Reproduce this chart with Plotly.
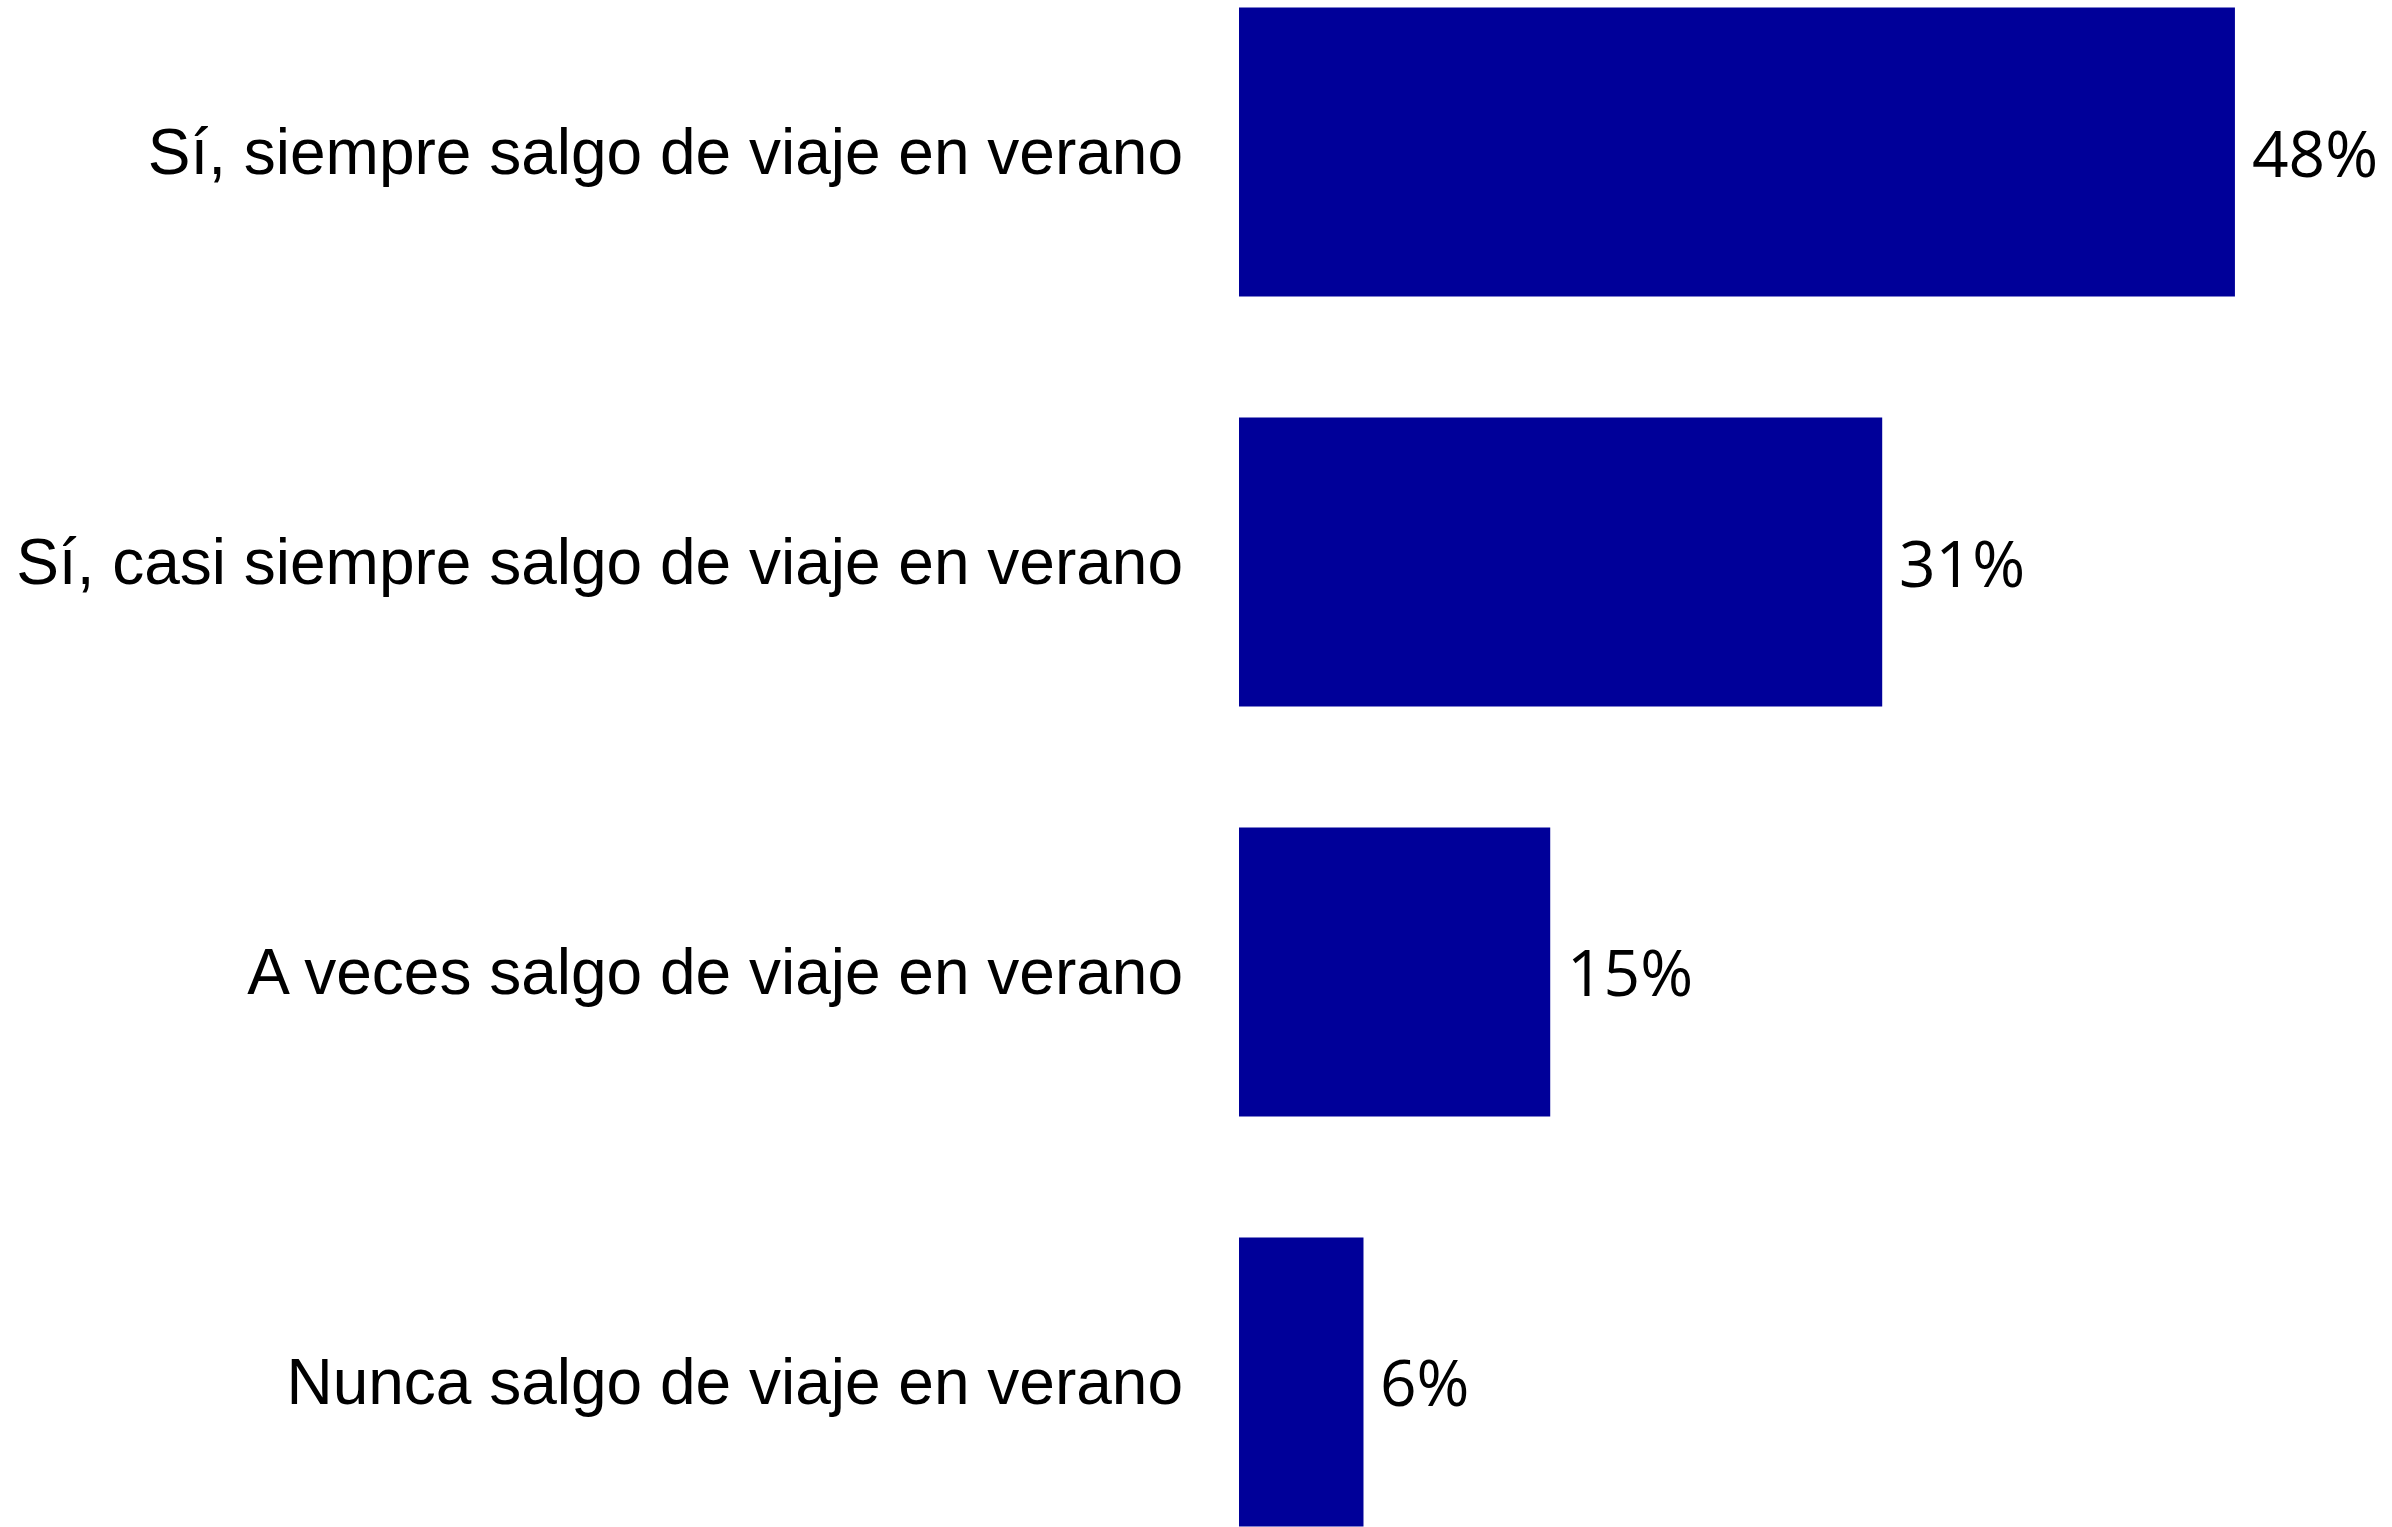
import plotly.graph_objects as go

# Survey answers (top to bottom) and their shares in percent
categories = [
    "Sí, siempre salgo de viaje en verano",
    "Sí, casi siempre salgo de viaje en verano",
    "A veces salgo de viaje en verano",
    "Nunca salgo de viaje en verano",
]
shares = [48, 31, 15, 6]
share_labels = [f"{v}%" for v in shares]

BAR_COLOR = "#000099"

fig = go.Figure(
    go.Bar(
        x=shares,
        y=categories,
        orientation="h",
        marker=dict(color=BAR_COLOR, line=dict(width=0)),
        width=0.705,
        hoverinfo="skip",
    )
)

# Value labels just to the right of each bar
for cat, val, lab in zip(categories, shares, share_labels):
    fig.add_annotation(
        x=val,
        y=cat,
        text=lab,
        showarrow=False,
        xanchor="left",
        yanchor="middle",
        xshift=15,
        font=dict(family="Open Sans, Noto Sans, sans-serif", size=64, color="#000000"),
    )

fig.update_layout(
    width=2392,
    height=1527,
    margin=dict(l=1239, r=0, t=0, b=0),
    paper_bgcolor="white",
    plot_bgcolor="white",
    showlegend=False,
    xaxis=dict(
        range=[0, 55.57],
        visible=False,
        fixedrange=True,
    ),
    yaxis=dict(
        categoryorder="array",
        categoryarray=categories,
        range=[3.354, -0.371],
        showgrid=False,
        zeroline=False,
        showline=False,
        ticks="",
        ticklabelstandoff=55,
        tickfont=dict(family="Liberation Sans, Arial, sans-serif", size=64, color="#000000"),
    ),
)

fig.write_html("out.html")
